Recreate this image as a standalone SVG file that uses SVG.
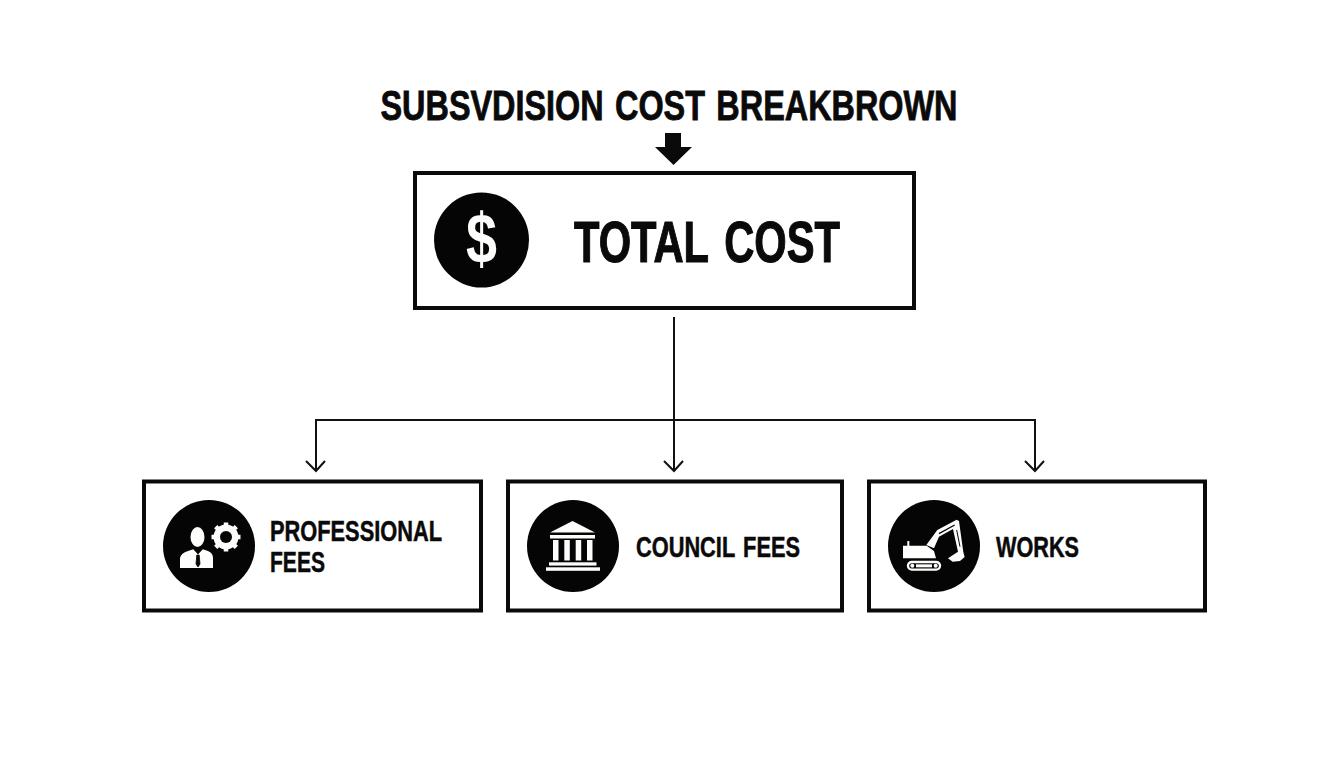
<svg xmlns="http://www.w3.org/2000/svg" width="1344" height="768" viewBox="0 0 1344 768">
<style>
.box{fill:#fff;stroke:#0a0a0a;stroke-width:4}
.disc{fill:#050505}
.t{font-family:"Liberation Sans",Arial,sans-serif;font-weight:700;fill:#0a0a0a;stroke:#0a0a0a}
.big{stroke-width:1.100}
.mid{stroke-width:.8}
.sm{stroke-width:.5}
.w{fill:#fdfdfb}
.c{fill:none;stroke:#111;stroke-width:2}
</style>
<rect width="1344" height="768" fill="#fff"/>
<g id="title">
<text class="t mid" x="380.500" y="119.500" font-size="42" word-spacing="3" textLength="577" lengthAdjust="spacingAndGlyphs">SUBSVDISION COST BREAKBROWN</text>
<path d="M665 133H681V147H692L673.500 165L655 147H665Z" fill="#0a0a0a"/>
</g>
<g id="connectors">
<path class="c" d="M674 317V470"/>
<path class="c" d="M316 470V420H1035V470"/>
<path class="c" d="M306 461L316 471L325 461M664 461L674 471L683 461M1025 461L1035 471L1044 461"/>
</g>
<g id="total-cost">
<rect class="box" x="415" y="173" width="499" height="135"/>
<circle class="disc" cx="481.500" cy="240" r="47.500"/>
<text x="481.500" y="263" font-size="70" text-anchor="middle" style="font-family:'Liberation Sans',Arial,sans-serif;font-weight:700;fill:#fdfdfb" textLength="31" lengthAdjust="spacingAndGlyphs">$</text>
<text class="t big" x="574" y="262" font-size="57" word-spacing="6" textLength="266" lengthAdjust="spacingAndGlyphs">TOTAL COST</text>
</g>
<g id="professional-fees">
<rect class="box" x="144" y="481.500" width="337" height="129"/>
<circle class="disc" cx="209" cy="546" r="46"/>
<g class="w">
<ellipse cx="197.500" cy="537" rx="7" ry="10"/>
<path d="M180 568V558Q181 553 188 551L194 549L198 552L202 549L208 551Q213 553 213 558V568Z"/>
</g>
<path d="M193.500 549L198 554L202.500 549M196.800 555H199.200L200 564L198 567L196 564Z" fill="#050505" stroke="#050505" stroke-width=".8"/>
<g transform="translate(226 537)">
<circle r="9.500" fill="none" stroke="#fdfdfb" stroke-width="6"/>
<g stroke="#fdfdfb" stroke-width="4.500">
<path d="M0-14.500V14.500M-14.500 0H14.500M-10.300-10.300L10.300 10.300M-10.300 10.300L10.300-10.300"/>
</g>
<circle r="6" class="disc"/>
</g>
<text class="t sm" x="270" y="541" font-size="29" textLength="172" lengthAdjust="spacingAndGlyphs">PROFESSIONAL</text>
<text class="t sm" x="270" y="572" font-size="29" textLength="55" lengthAdjust="spacingAndGlyphs">FEES</text>
</g>
<g id="council-fees">
<rect class="box" x="508" y="481.500" width="334" height="129"/>
<circle class="disc" cx="573" cy="546" r="46"/>
<g class="w">
<path d="M572.500 521L595 532.500H550Z"/>
<rect x="550" y="535" width="45" height="3.500"/>
<rect x="553" y="540" width="5.500" height="20.500"/>
<rect x="564.300" y="540" width="5.500" height="20.500"/>
<rect x="575.700" y="540" width="5.500" height="20.500"/>
<rect x="587" y="540" width="5.500" height="20.500"/>
<rect x="549" y="562.300" width="47.500" height="3.300"/>
<rect x="546" y="567.300" width="54" height="3.500"/>
</g>
<text class="t sm" x="636" y="557" font-size="29" word-spacing="3" textLength="164" lengthAdjust="spacingAndGlyphs">COUNCIL FEES</text>
</g>
<g id="works">
<rect class="box" x="869" y="481.500" width="336" height="129"/>
<circle class="disc" cx="934" cy="546" r="46"/>
<g transform="translate(884 495) scale(.3333)">
<path class="w" d="M57 190V152H70V138H76V152H128L150 168L156 190Z"/>
<path class="w" d="M127 150L160 105L218 74L225 78L238 172L242 186L228 198L206 200L192 190L222 170L207 102L165 125L150 160Z"/>
<path d="M165 116L212 90" stroke="#050505" stroke-width="4"/>
<path d="M218 105L228 155" stroke="#050505" stroke-width="3"/>
<rect x="72" y="201" width="96" height="23" rx="11.500" fill="none" stroke="#fdfdfb" stroke-width="7"/>
<circle cx="85" cy="212.500" r="6" class="w"/><circle cx="155" cy="212.500" r="6" class="w"/>
<rect x="96" y="208" width="48" height="9" class="w"/>
</g>
<text class="t sm" x="996" y="557" font-size="29" textLength="83" lengthAdjust="spacingAndGlyphs">WORKS</text>
</g>
</svg>
